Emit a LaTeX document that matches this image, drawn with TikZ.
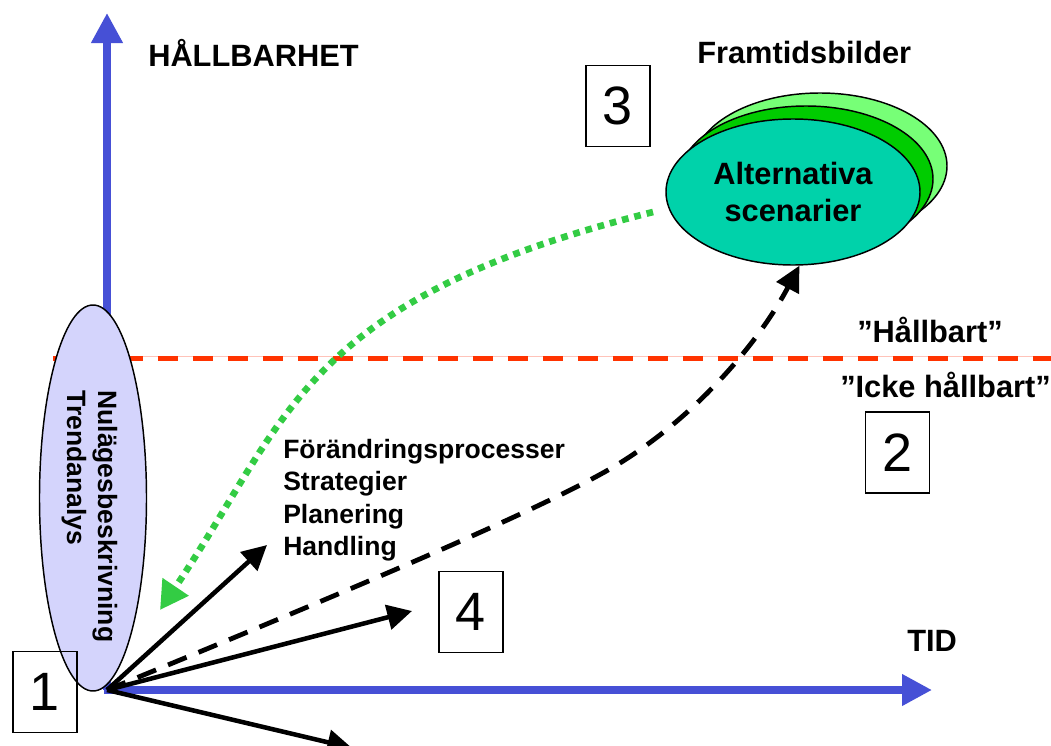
\documentclass[tikz,border=0pt]{standalone}
\usepackage{fontspec}
\setmainfont{Liberation Sans}
\usetikzlibrary{arrows.meta,shapes.geometric}
\definecolor{axisblue}{RGB}{70,80,214}
\definecolor{hred}{RGB}{255,51,0}
\definecolor{hpink}{RGB}{255,195,185}
\definecolor{lav}{RGB}{212,212,252}
\definecolor{altteal}{RGB}{0,210,170}
\definecolor{midgreen}{RGB}{0,204,0}
\definecolor{lightgreen}{RGB}{119,255,119}
\definecolor{dotgreen}{RGB}{51,204,68}
\tikzset{
  lbl/.style={font=\bfseries\fontsize{23.1}{27}\selectfont, inner sep=0pt, anchor=base west},
  smlbl/.style={font=\bfseries\fontsize{19.9}{24.2}\selectfont, inner sep=0pt},
  numbox/.style={draw=black, line width=1.3pt, minimum width=48pt, minimum height=60.75pt, inner sep=0pt, font=\fontsize{40.5}{40.5}\selectfont},
  axisarrow/.style={draw=axisblue, line width=5.4pt, -{Triangle[length=22.5pt,width=22.5pt]}},
  blkarrow/.style={draw=black, line width=3.4pt, -{Triangle[length=18.5pt,width=18.5pt]}},
  dasharrow/.style={draw=black, line width=3.6pt, dash pattern=on 15pt off 9.75pt, -{Triangle[length=19pt,width=18.5pt]}},
  dotarrow/.style={draw=dotgreen, line width=5pt, dash pattern=on 5pt off 4.5pt, -{Triangle[length=21pt,width=22.5pt]}},
  scen/.style={ellipse, draw=black, line width=1.1pt, minimum width=190.5pt, minimum height=109.5pt, inner sep=0pt},
}
\begin{document}
\begin{tikzpicture}[x=0.75pt,y=-0.75pt]
\useasboundingbox (0,0) rectangle (1051,746);
% axes
\coordinate (O) at (107,690);
\coordinate (Ostart) at (103.5,690);
\coordinate (ytop) at (107,13);
\coordinate (xend) at (932,690);
\draw[axisarrow] (O) -- (ytop);
\draw[axisarrow] (Ostart) -- (xend);
% sustainability line
\coordinate (rl) at (53,356.5);
\coordinate (rr) at (1051,356.5);
\coordinate (rl2) at (53,358.5);
\coordinate (rr2) at (1060,358.5);
\draw[hpink, line width=1pt] (rl) -- (rr);
\draw[hred, line width=3.75pt, dash pattern=on 15pt off 11.25pt] (rl2) -- (rr2);
% current state ellipse
\node[ellipse, draw=black, line width=1.1pt, fill=lav, minimum width=80.25pt, minimum height=289.5pt, inner sep=0pt] (nul) at (93,498) {};
\node[smlbl, rotate=-90, anchor=base west] (nul1) at (98,390) {Nulägesbeskrivning};
\node[smlbl, rotate=-90, anchor=base west] (nul2) at (67,390) {Trendanalys};
% future scenario ellipses
\node[scen, fill=lightgreen] (alt3) at (820,166) {};
\node[scen, fill=midgreen] (alt2) at (806,179) {};
\node[scen, fill=altteal, align=center, font=\bfseries\fontsize{23.1}{27.75}\selectfont] (alt) at (793,192) {Alternativa\\scenarier};
% labels
\node[lbl] (hall) at (148,66) {HÅLLBARHET};
\node[lbl] (fram) at (697,63) {Framtidsbilder};
\node[lbl] (hb) at (857,342) {”Hållbart”};
\node[lbl] (ihb) at (840,397) {”Icke hållbart”};
\node[lbl] (tid) at (907,651) {TID};
\node[smlbl, align=left, anchor=north west] (proc) at (283,439) {Förändringsprocesser\\Strategier\\Planering\\Handling};
% numbered boxes
\node[numbox] (b1) at (45,692) {1};
\node[numbox] (b2) at (897.5,452.5) {2};
\node[numbox] (b3) at (618,106) {3};
\node[numbox] (b4) at (471,612) {4};
% arrows from origin
\coordinate (t1) at (267,545);
\coordinate (t2) at (412,611);
\coordinate (t3) at (352,748);
\draw[blkarrow] (O) -- (t1);
\draw[blkarrow] (O) -- (t2);
\draw[blkarrow] (O) -- (t3);
\draw[dasharrow] (O) .. controls (400,570) and (560,500) .. (620,463) .. controls (700,413) and (760,340) .. (alt.-85);
% feedback arrow
\coordinate (gs) at (653,212);
\coordinate (ge) at (160,610);
\draw[dotarrow] (gs) .. controls (300,300) and (289,419) .. (ge);
\end{tikzpicture}
\end{document}
